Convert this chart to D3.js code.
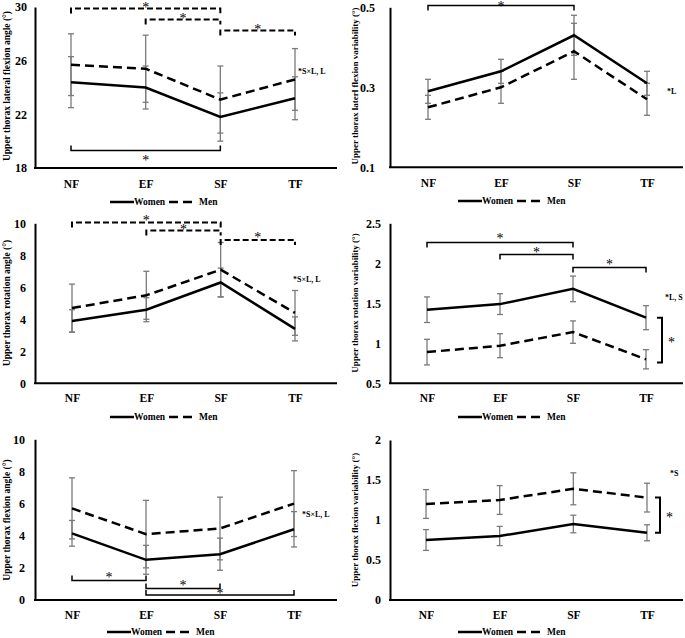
<!DOCTYPE html>
<html>
<head>
<meta charset="utf-8">
<script src="https://cdnjs.cloudflare.com/ajax/libs/d3/7.8.5/d3.min.js"></script>
<style>
  html, body { margin: 0; padding: 0; background: #fff; }
  svg { display: block; }
  text { font-family: "Liberation Serif", "Times New Roman", serif; font-weight: bold; fill: #000; }
</style>
</head>
<body>
<svg id="chart" width="685" height="638"></svg>
<script>
// ---------------- DATA ----------------
const categories = ["NF", "EF", "SF", "TF"];
const seriesNames = ["Women", "Men"];

// Upper thorax lateral flexion angle (°)
const latAngleWomen = [24.4, 24.0, 21.8, 23.2];
const latAngleWomenSD = [1.9, 1.6, 1.8, 1.6];
const latAngleMen = [25.7, 25.4, 23.1, 24.6];
const latAngleMenSD = [2.3, 2.5, 2.5, 2.3];
const latAngleTicks = [18, 22, 26, 30];

// Upper thorax lateral flexion variability (°)
const latVarWomen = [0.29, 0.34, 0.43, 0.31];
const latVarWomenSD = [0.03, 0.03, 0.05, 0.03];
const latVarMen = [0.25, 0.30, 0.39, 0.27];
const latVarMenSD = [0.03, 0.04, 0.07, 0.04];
const latVarTicks = [0.1, 0.3, 0.5];

// Upper thorax rotation angle (°)
const rotAngleWomen = [3.9, 4.6, 6.3, 3.4];
const rotAngleWomenSD = [0.7, 0.75, 0.9, 0.75];
const rotAngleMen = [4.7, 5.5, 7.1, 4.4];
const rotAngleMenSD = [1.5, 1.5, 1.7, 1.4];
const rotAngleTicks = [0, 2, 4, 6, 8, 10];

// Upper thorax rotation variability (°)
const rotVarWomen = [1.42, 1.49, 1.68, 1.32];
const rotVarWomenSD = [0.16, 0.13, 0.16, 0.15];
const rotVarMen = [0.89, 0.97, 1.14, 0.80];
const rotVarMenSD = [0.16, 0.15, 0.14, 0.12];
const rotVarTicks = [0.5, 1, 1.5, 2, 2.5];

// Upper thorax flexion angle (°)
const flexAngleWomen = [4.15, 2.5, 2.85, 4.4];
const flexAngleWomenSD = [0.8, 0.9, 1.0, 1.1];
const flexAngleMen = [5.7, 4.1, 4.45, 6.0];
const flexAngleMenSD = [1.9, 2.1, 1.95, 2.05];
const flexAngleTicks = [0, 2, 4, 6, 8, 10];

// Upper thorax flexion variability (°)
const flexVarWomen = [0.75, 0.80, 0.95, 0.84];
const flexVarWomenSD = [0.13, 0.12, 0.11, 0.10];
const flexVarMen = [1.20, 1.25, 1.39, 1.28];
const flexVarMenSD = [0.18, 0.18, 0.20, 0.18];
const flexVarTicks = [0, 0.5, 1, 1.5, 2];

// Significance brackets (category pairs) and annotations
const latAngleSig = [["NF", "SF", "dashed"], ["EF", "SF", "dashed"], ["SF", "TF", "dashed"], ["NF", "SF", "solid"]];
const latVarSig = [["NF", "SF", "solid"]];
const rotAngleSig = [["NF", "SF", "dashed"], ["EF", "SF", "dashed"], ["SF", "TF", "dashed"]];
const rotVarSig = [["NF", "SF", "solid"], ["EF", "SF", "solid"], ["SF", "TF", "solid"]];
const flexAngleSig = [["NF", "EF", "solid"], ["EF", "SF", "solid"], ["EF", "TF", "solid"]];
const flexVarSig = [];

const latAngleNote = "*S×L, L";
const latVarNote = "*L";
const rotAngleNote = "*S×L, L";
const rotVarNote = "*L, S";
const flexAngleNote = "*S×L, L";
const flexVarNote = "*S";

// ---------------- LAYOUT ----------------
const panels = [
  { label: "Upper thorax lateral flexion angle (°)", women: latAngleWomen, womenSD: latAngleWomenSD, men: latAngleMen, menSD: latAngleMenSD,
    ticks: latAngleTicks, yDomain: [18, 30], yRange: [168, 7], axisX: 35, xEnd: 337, xRange: [71, 295], tickPad: 8,
    labelX: 7, labelY: 86, labelSize: 9.5, catY: 184, legendY: 202, legendX: 110,
    sig: latAngleSig, sigLayout: [{y: 8.5, dir: 1, star: -3}, {y: 19.5, dir: 1, star: -3}, {y: 30.5, dir: 1, star: -3}, {y: 150.5, dir: -1, star: 8}],
    note: latAngleNote, noteX: 298, noteY: 71, vbr: null },
  { label: "Upper thorax laterl flexion variability (°)", women: latVarWomen, womenSD: latVarWomenSD, men: latVarMen, menSD: latVarMenSD,
    ticks: latVarTicks, yDomain: [0.1, 0.5], yRange: [167.3, 7.3], axisX: 390, xEnd: 683, xRange: [428, 647], tickPad: 15,
    labelX: 355, labelY: 86, labelSize: 9, catY: 183, legendY: 201, legendX: 458,
    sig: latVarSig, sigLayout: [{y: 5.5, dir: 1, star: -1}],
    note: latVarNote, noteX: 667, noteY: 91, vbr: null },
  { label: "Upper thorax rotation angle (°)", women: rotAngleWomen, womenSD: rotAngleWomenSD, men: rotAngleMen, menSD: rotAngleMenSD,
    ticks: rotAngleTicks, yDomain: [0, 10], yRange: [383.3, 223.3], axisX: 35, xEnd: 337, xRange: [72, 295], tickPad: 9,
    labelX: 7, labelY: 303, labelSize: 9.5, catY: 398, legendY: 417, legendX: 110,
    sig: rotAngleSig, sigLayout: [{y: 222.5, dir: 1, star: -4}, {y: 230.5, dir: 1, star: -3}, {y: 240, dir: 1, star: -4}],
    note: rotAngleNote, noteX: 293, noteY: 279, vbr: null },
  { label: "Upper thorax rotation variability (°)", women: rotVarWomen, womenSD: rotVarWomenSD, men: rotVarMen, menSD: rotVarMenSD,
    ticks: rotVarTicks, yDomain: [0.5, 2.5], yRange: [383.3, 223.3], axisX: 390, xEnd: 683, xRange: [427, 646], tickPad: 9,
    labelX: 355, labelY: 303, labelSize: 9, catY: 398, legendY: 417, legendX: 458,
    sig: rotVarSig, sigLayout: [{y: 242.5, dir: 1, star: -6}, {y: 254.5, dir: 1, star: -4}, {y: 267.5, dir: 1, star: -5}],
    note: rotVarNote, noteX: 665, noteY: 297, vbr: { x: 662, top: 1.32, bottom: 0.76, starX: 668 } },
  { label: "Upper thorax flexion angle (°)", women: flexAngleWomen, womenSD: flexAngleWomenSD, men: flexAngleMen, menSD: flexAngleMenSD,
    ticks: flexAngleTicks, yDomain: [0, 10], yRange: [600, 439.3], axisX: 35, xEnd: 337, xRange: [72, 294], tickPad: 10,
    labelX: 7, labelY: 520, labelSize: 9.5, catY: 615, legendY: 632, legendX: 107,
    sig: flexAngleSig, sigLayout: [{y: 580.5, dir: -1, star: -5}, {y: 588.5, dir: -1, star: -5}, {y: 595, dir: -1, star: -3}],
    note: flexAngleNote, noteX: 302, noteY: 514, vbr: null },
  { label: "Upper thorax flexion variability (°)", women: flexVarWomen, womenSD: flexVarWomenSD, men: flexVarMen, menSD: flexVarMenSD,
    ticks: flexVarTicks, yDomain: [0, 2], yRange: [600, 440], axisX: 390, xEnd: 683, xRange: [426, 647], tickPad: 9,
    labelX: 355, labelY: 520, labelSize: 9, catY: 615, legendY: 632, legendX: 458,
    sig: flexVarSig, sigLayout: [],
    note: flexVarNote, noteX: 670, noteY: 473, vbr: { x: 660, top: 1.28, bottom: 0.84, starX: 666 } }
];

const svg = d3.select("#chart");
const errColor = "#7a7a7a";

panels.forEach(p => {
  const g = svg.append("g");
  const x = d3.scalePoint().domain(categories).range(p.xRange);
  const y = d3.scaleLinear().domain(p.yDomain).range(p.yRange);

  // y axis
  const ya = g.append("g")
    .attr("transform", `translate(${p.axisX},0)`)
    .call(d3.axisLeft(y).tickValues(p.ticks).tickSize(0).tickSizeOuter(0).tickPadding(p.tickPad).tickFormat(d3.format("")));
  ya.select(".domain").attr("stroke", "#000").attr("stroke-width", 2);
  ya.selectAll("text").style("font-size", "12px").style("font-family", '"Liberation Serif", serif').style("font-weight", "bold");

  // x axis baseline
  g.append("line")
    .attr("x1", p.axisX - 1).attr("x2", p.xEnd)
    .attr("y1", y(p.yDomain[0])).attr("y2", y(p.yDomain[0]))
    .attr("stroke", "#000").attr("stroke-width", 2);

  // x category labels
  const xa = g.append("g")
    .attr("transform", `translate(0,${p.catY})`)
    .call(d3.axisBottom(x).tickSize(0).tickPadding(0));
  xa.select(".domain").remove();
  xa.selectAll("text").attr("dy", "0.32em").style("font-size", "11.5px").style("font-family", '"Liberation Serif", serif').style("font-weight", "bold");

  // y label
  g.append("text")
    .attr("transform", `translate(${p.labelX},${p.labelY}) rotate(-90)`)
    .attr("text-anchor", "middle")
    .attr("dy", "0.35em")
    .style("font-size", p.labelSize + "px")
    .text(p.label);

  // error bars
  const series = [
    { vals: p.women, sd: p.womenSD, dash: null },
    { vals: p.men, sd: p.menSD, dash: "9,5" }
  ];
  series.forEach(s => {
    categories.forEach((c, i) => {
      const cx = x(c);
      const hi = y(s.vals[i] + s.sd[i]);
      const lo = y(s.vals[i] - s.sd[i]);
      g.append("line").attr("x1", cx).attr("x2", cx).attr("y1", hi).attr("y2", lo)
        .attr("stroke", errColor).attr("stroke-width", 1.3);
      [hi, lo].forEach(yy => {
        g.append("line").attr("x1", cx - 3).attr("x2", cx + 3).attr("y1", yy).attr("y2", yy)
          .attr("stroke", errColor).attr("stroke-width", 1.3);
      });
    });
  });

  // lines
  const line = d3.line().x((d, i) => x(categories[i])).y(d => y(d));
  series.forEach(s => {
    g.append("path").datum(s.vals)
      .attr("d", line)
      .attr("fill", "none")
      .attr("stroke", "#000")
      .attr("stroke-width", 2.5)
      .attr("stroke-dasharray", s.dash);
  });

  // significance brackets
  p.sig.forEach((b, i) => {
    const L = p.sigLayout[i];
    const x1 = x(b[0]), x2 = x(b[1]);
    const tick = 5 * L.dir;
    g.append("path")
      .attr("d", `M${x1},${L.y + tick}V${L.y}H${x2}V${L.y + tick}`)
      .attr("fill", "none")
      .attr("stroke", "#000")
      .attr("stroke-width", b[2] === "dashed" ? 2 : 1.5)
      .attr("stroke-dasharray", b[2] === "dashed" ? "6,3" : null);
    g.append("text")
      .attr("x", (x1 + x2) / 2)
      .attr("y", L.y + L.star + 6)
      .attr("text-anchor", "middle")
      .style("font-size", "14px")
      .style("font-weight", "normal")
      .text("*");
  });

  // vertical bracket between groups
  if (p.vbr) {
    const t = y(p.vbr.top), bt = y(p.vbr.bottom);
    g.append("path")
      .attr("d", `M${p.vbr.x - 5},${t}H${p.vbr.x}V${bt}H${p.vbr.x - 5}`)
      .attr("fill", "none").attr("stroke", "#000").attr("stroke-width", 2);
    g.append("text")
      .attr("x", p.vbr.starX)
      .attr("y", (t + bt) / 2 + 7)
      .style("font-size", "14px")
      .style("font-weight", "normal")
      .text("*");
  }

  // annotation
  g.append("text")
    .attr("x", p.noteX).attr("y", p.noteY)
    .attr("dy", "0.35em")
    .style("font-size", "8px")
    .text(p.note);

  // legend
  const lg = g.append("g").attr("transform", `translate(${p.legendX},${p.legendY})`);
  lg.append("line").attr("x1", 0).attr("x2", 24).attr("y1", 0).attr("y2", 0)
    .attr("stroke", "#000").attr("stroke-width", 2.5);
  lg.append("text").attr("x", 24).attr("y", 0).attr("dy", "0.35em").style("font-size", "9.5px").text(seriesNames[0]);
  lg.append("line").attr("x1", 59).attr("x2", 87).attr("y1", 0).attr("y2", 0)
    .attr("stroke", "#000").attr("stroke-width", 2.5).attr("stroke-dasharray", "9,5");
  lg.append("text").attr("x", 89).attr("y", 0).attr("dy", "0.35em").style("font-size", "9.5px").text(seriesNames[1]);
});
</script>
</body>
</html>
